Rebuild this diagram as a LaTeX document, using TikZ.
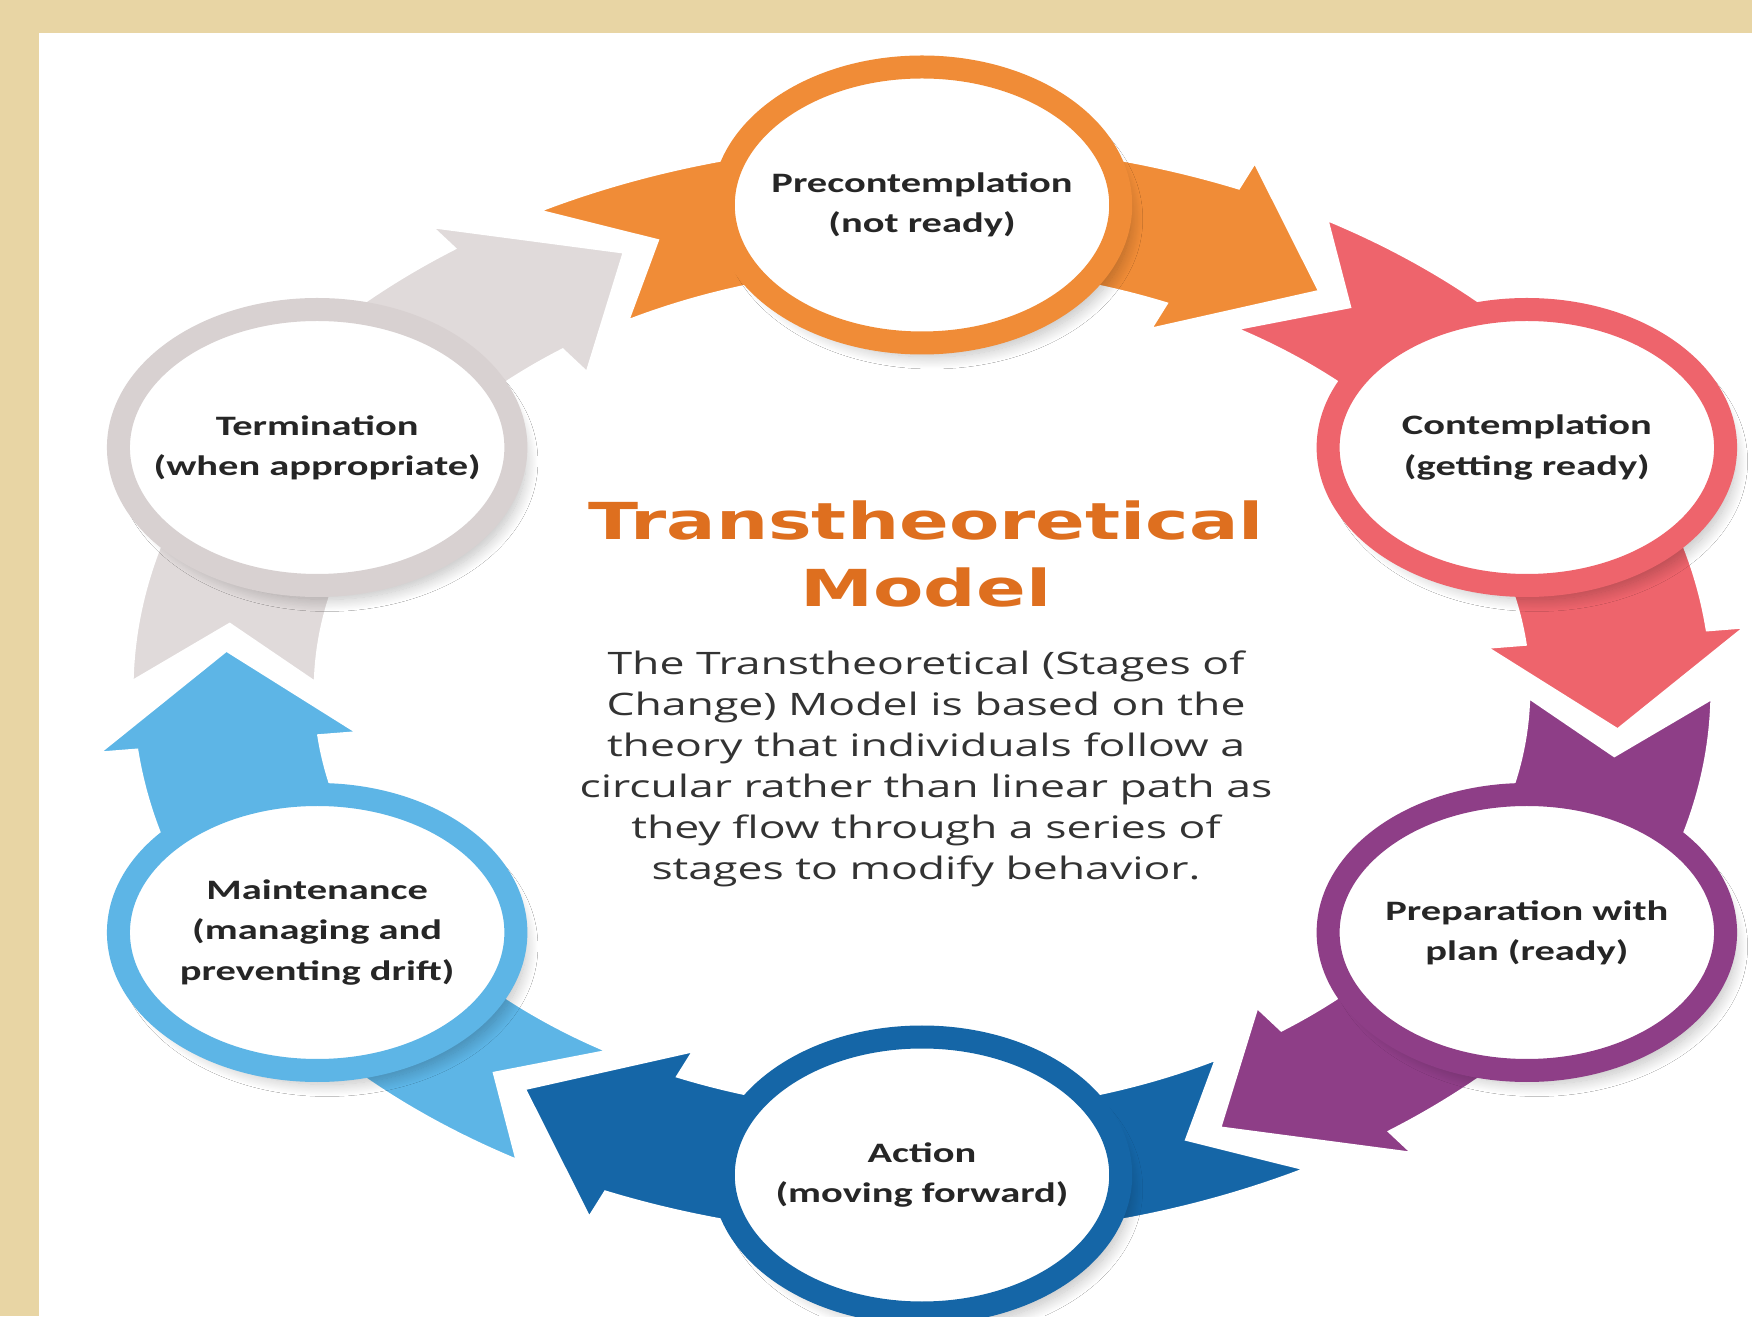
\documentclass[tikz,border=0pt]{standalone}
\usepackage{fontspec}
\setmainfont{Carlito}
\newfontfamily\titlefont{DejaVu Sans}
\newfontfamily\bodyfont{Open Sans}
\usetikzlibrary{shadows.blur}
\definecolor{paper}{HTML}{E8D5A4}
\definecolor{preorange}{HTML}{F08C37}
\definecolor{contpink}{HTML}{EE646C}
\definecolor{preppurple}{HTML}{8E3E87}
\definecolor{actblue}{HTML}{1566A7}
\definecolor{maintblue}{HTML}{5DB5E6}
\definecolor{termgray}{HTML}{E0DADA}
\definecolor{termring}{HTML}{D8D1D1}
\definecolor{titleorange}{HTML}{DE6F1F}
\definecolor{bodygray}{HTML}{333333}

% radius of the stage cycle (before the horizontal stretch)
\newcommand{\cycR}{4.85}
% curved band of one stage: notched tail, arrow head pointing clockwise
% #1 = angle of the stage, #2 = colour
\newcommand{\stageband}[2]{%
  \path[fill=#2, draw=white, line width=2pt, line join=miter]
    ({#1+29.5}:{\cycR+0.65}) arc[start angle={#1+29.5}, end angle={#1-23.5}, radius={\cycR+0.65}]
    -- ({#1-23.5}:{\cycR+0.95}) -- ({#1-35}:\cycR) -- ({#1-23.5}:{\cycR-0.95})
    -- ({#1-23.5}:{\cycR-0.65})
    arc[start angle={#1-23.5}, end angle={#1+29.5}, radius={\cycR-0.65}]
    -- ({#1+22.5}:\cycR) -- cycle;}

\begin{document}
\begin{tikzpicture}[
    stagering/.style={draw=#1, fill=white, line width=0.23cm,
      blur shadow={shadow xshift=0.1cm, shadow yshift=-0.14cm, shadow opacity=25,
        shadow blur radius=0.12cm, shadow blur steps=20}},
    stagelabel/.style={font=\bfseries\fontsize{8}{11.4}\selectfont, align=center,
      xscale=1.44, text=black!85},
  ]
  \useasboundingbox (0,0) rectangle (17.52,13.16);

  % Frame and white sheet
  \fill[paper] (0,0) rectangle (17.52,13.16);
  \fill[white] (0.39,0) rectangle (17.52,12.83);

  % =================== STAGE CYCLE ===================
  \begin{scope}[shift={(9.22,6.26)}, xscale=1.44]
    % Bands
    \stageband{90}{preorange}
    \stageband{30}{contpink}
    \stageband{-30}{preppurple}
    \stageband{-90}{actblue}
    \stageband{-150}{maintblue}
    \stageband{150}{termgray}

    % Rings
    \draw[stagering=preorange] (90:\cycR) circle[radius=1.38];
    \draw[stagering=contpink] (30:\cycR) circle[radius=1.38];
    \draw[stagering=preppurple] (-30:\cycR) circle[radius=1.38];
    \draw[stagering=actblue] (-90:\cycR) circle[radius=1.38];
    \draw[stagering=maintblue] (-150:\cycR) circle[radius=1.38];
    \draw[stagering=termring] (150:\cycR) circle[radius=1.38];

    % Labels
    \node[stagelabel] (pre) at (90:\cycR) {Precontemplation\\(not ready)};
    \node[stagelabel] (cont) at (30:\cycR) {Contemplation\\(getting ready)};
    \node[stagelabel] (prep) at (-30:\cycR) {Preparation with\\plan (ready)};
    \node[stagelabel] (act) at (-90:\cycR) {Action\\(moving forward)};
    \node[stagelabel] (maint) at (-150:\cycR) {Maintenance\\(managing and\\preventing drift)};
    \node[stagelabel] (term) at (150:\cycR) {Termination\\(when appropriate)};
  \end{scope}

  % =================== CENTRE TEXT ===================
  \node[font=\titlefont\bfseries\fontsize{14.5}{18.8}\selectfont, text=titleorange,
        align=center, xscale=1.44] (title) at (9.26,7.62) {Transtheoretical\\Model};
  \node[font=\bodyfont\fontsize{8.8}{11.7}\selectfont, text=bodygray,
        align=center, xscale=1.44] (about) at (9.26,5.47)
    {The Transtheoretical (Stages of\\Change) Model is based on the\\theory that individuals follow a\\
     circular rather than linear path as\\they flow through a series of\\stages to modify behavior.};

\end{tikzpicture}
\end{document}
